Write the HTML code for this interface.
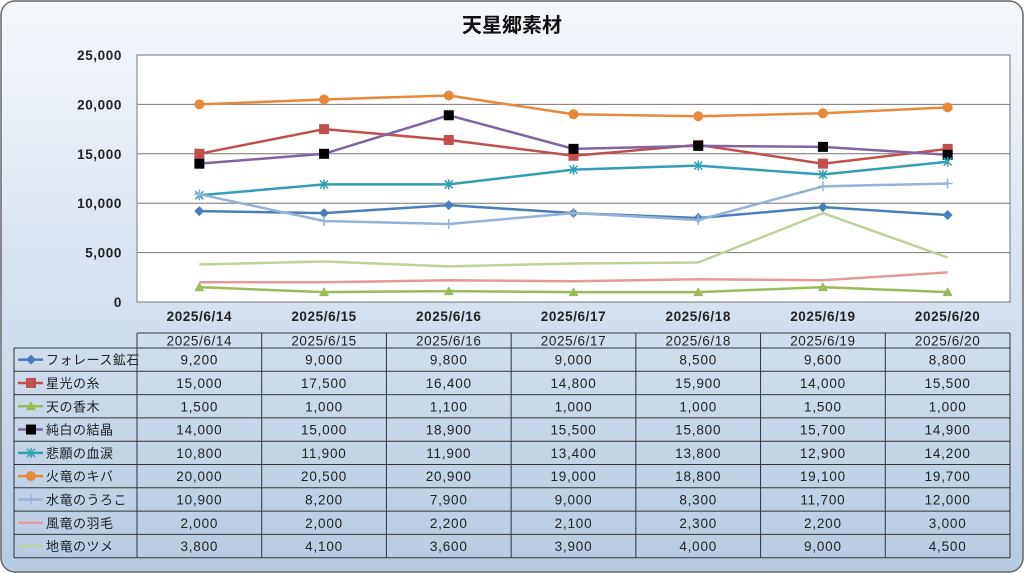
<!DOCTYPE html>
<html><head><meta charset="utf-8"><style>
html,body{margin:0;padding:0;width:1024px;height:573px;overflow:hidden;background:#fff}
svg{display:block;font-family:"Liberation Sans","Noto Sans CJK JP",sans-serif}
</style></head><body>
<svg id="c" width="1024" height="573" viewBox="0 0 1024 573">
<defs><linearGradient id="bg" x1="0" y1="0" x2="0" y2="1"><stop offset="0" stop-color="#f5f8fc"/><stop offset="1" stop-color="#b7cbe2"/></linearGradient></defs>
<rect x="1" y="1" width="1022" height="571" rx="14" fill="url(#bg)" stroke="#666" stroke-width="1.5"/>
<text x="512" y="32" text-anchor="middle" font-size="20" font-weight="bold" fill="#111">天星郷素材</text>
<rect x="137" y="55" width="873" height="247" fill="#fff" stroke="#777"/>
<g id="grid"></g><g id="series"></g><g id="table"></g>
</svg>
<script>
const categories=["2025/6/14","2025/6/15","2025/6/16","2025/6/17","2025/6/18","2025/6/19","2025/6/20"];
const seriesNames=["フォレース鉱石","星光の糸","天の香木","純白の結晶","悲願の血涙","火竜のキバ","水竜のうろこ","風竜の羽毛","地竜のツメ"];
const s0=[9200,9000,9800,9000,8500,9600,8800];
const s1=[15000,17500,16400,14800,15900,14000,15500];
const s2=[1500,1000,1100,1000,1000,1500,1000];
const s3=[14000,15000,18900,15500,15800,15700,14900];
const s4=[10800,11900,11900,13400,13800,12900,14200];
const s5=[20000,20500,20900,19000,18800,19100,19700];
const s6=[10900,8200,7900,9000,8300,11700,12000];
const s7=[2000,2000,2200,2100,2300,2200,3000];
const s8=[3800,4100,3600,3900,4000,9000,4500];
const yTicks=[0,5000,10000,15000,20000,25000];
const seriesValues=[s0,s1,s2,s3,s4,s5,s6,s7,s8];
const lineColors=["#4a7ebb","#c0504d","#9bbb59","#8064a2","#31a0b4","#e8893a","#95b3d7","#e39a98","#bcd39a"];
const markers=["diamond","square","triangle","blacksquare","star","circle","plus","none","none"];
const NS="http://www.w3.org/2000/svg";
const X0=137,X1=1010,Y0=302,Y1=55,cw=(X1-X0)/categories.length;
const xs=i=>X0+cw*(i+0.5);
const ys=v=>Y0-(v/25000)*(Y0-Y1);
function mk(tag,attrs,parent){const e=document.createElementNS(NS,tag);for(const k in attrs)e.setAttribute(k,attrs[k]);parent.appendChild(e);return e;}
const grid=document.getElementById('grid');
yTicks.forEach(t=>{
  if(t>0&&t<25000){const l=mk('line',{x1:X0,x2:X1,y1:ys(t),y2:ys(t),stroke:'#777','stroke-width':1},grid);
  
  }
  const tx=mk('text',{x:122,y:ys(t)+5,'text-anchor':'end','font-size':13.5,'font-weight':'bold','letter-spacing':0.6,fill:'#222'},grid);
  tx.textContent=t.toLocaleString('en-US');
  
  
});
categories.forEach((c,i)=>{
  const tx=mk('text',{x:xs(i),y:321,'text-anchor':'middle','font-size':13.5,'font-weight':'bold','letter-spacing':0.6,fill:'#222'},grid);
  tx.textContent=c;
  
  
});
function marker(type,x,y,col,g){
  let e;
  if(type==='diamond')e=mk('polygon',{points:`${x},${y-5} ${x+5},${y} ${x},${y+5} ${x-5},${y}`,fill:col},g);
  else if(type==='square')e=mk('rect',{x:x-5,y:y-5,width:10,height:10,fill:col},g);
  else if(type==='blacksquare')e=mk('rect',{x:x-5,y:y-5,width:10,height:10,fill:'#000'},g);
  else if(type==='triangle')e=mk('polygon',{points:`${x},${y-5} ${x+5},${y+4} ${x-5},${y+4}`,fill:col},g);
  else if(type==='circle')e=mk('circle',{cx:x,cy:y,r:5,fill:col},g);
  else if(type==='star')e=mk('path',{d:`M${x-4} ${y-4}L${x+4} ${y+4}M${x+4} ${y-4}L${x-4} ${y+4}M${x} ${y-5}L${x} ${y+5}`,stroke:col,'stroke-width':1.5,fill:'none'},g);
  else if(type==='plus')e=mk('path',{d:`M${x-5} ${y}L${x+5} ${y}M${x} ${y-5}L${x} ${y+5}`,stroke:col,'stroke-width':1.5,fill:'none'},g);
  return e;
}
const sg=document.getElementById('series');
seriesValues.forEach((vals,si)=>{
  const g=mk('g',{},sg);
  
  
  const p=mk('polyline',{points:vals.map((v,i)=>xs(i)+','+ys(v)).join(' '),fill:'none',stroke:lineColors[si],'stroke-width':2.5},g);
  
  
  vals.forEach((v,i)=>{const m=marker(markers[si],xs(i),ys(v),lineColors[si],g);
    if(m){
    }});
});
const tg=document.getElementById('table');
const TY0=333,HR=15,RH=23.3,LX=14;
const tl=(x1,y1,x2,y2)=>mk('line',{x1,y1,x2,y2,stroke:'#333','stroke-width':1},tg);
const TB=TY0+HR+RH*seriesNames.length;
tl(X0,TY0,X1,TY0);
for(let i=0;i<=categories.length;i++)tl(X0+cw*i,TY0,X0+cw*i,TB);
tl(LX,TY0+HR,LX,TB);
for(let r=0;r<=seriesNames.length;r++)tl(LX,TY0+HR+RH*r,X1,TY0+HR+RH*r);
categories.forEach((c,i)=>{const t=mk('text',{x:xs(i),y:TY0+12.5,'text-anchor':'middle','font-size':13.5,'letter-spacing':0.6,fill:'#222'},tg);
  t.textContent=c;
  
  });
seriesNames.forEach((n,si)=>{
  const cy=TY0+HR+RH*si+RH/2;
  mk('line',{x1:18,x2:43,y1:cy,y2:cy,stroke:lineColors[si],'stroke-width':2.5},tg);
  marker(markers[si],31,cy,lineColors[si],tg);
  const t=mk('text',{x:46,y:cy+5,'font-size':13,'letter-spacing':0.5,fill:'#222'},tg);
  t.textContent=n;
  
  
  seriesValues[si].forEach((v,i)=>{const c=mk('text',{x:xs(i),y:cy+5,'text-anchor':'middle','font-size':13.5,'letter-spacing':0.8,fill:'#222'},tg);
    c.textContent=v.toLocaleString('en-US');
    
    });
});
</script>
</body></html>
